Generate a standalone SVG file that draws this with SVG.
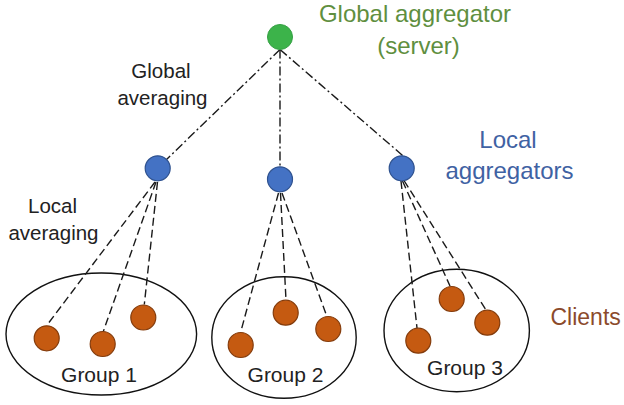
<svg xmlns="http://www.w3.org/2000/svg" width="624" height="405" viewBox="0 0 624 405">
<style>
.bg{fill:#ffffff}
.grp{fill:none;stroke:#111;stroke-width:1.4}
.glob{stroke:#1a1a1a;stroke-width:1.4;stroke-dasharray:9 3 2 3;fill:none}
.loc{stroke:#1a1a1a;stroke-width:1.4;stroke-dasharray:8 4;fill:none}
.gnode{fill:#3cb34a;stroke:#34a043;stroke-width:1}
.lnode{fill:#4472c4;stroke:#2f528f;stroke-width:1.2}
.cnode{fill:#c55a11;stroke:#843c0c;stroke-width:1.2}
text{font-family:"Liberation Sans",Arial,sans-serif}
.lbl{font-size:20.5px;fill:#222;text-anchor:middle}
.glbl{font-size:24px;fill:#5f8f3f;text-anchor:middle}
.blbl{font-size:24px;fill:#3f62a3;text-anchor:middle}
.clbl{font-size:23px;fill:#8b4a2b;text-anchor:start}
.grplbl{font-size:21px;fill:#222;text-anchor:middle}
</style>
<rect class="bg" x="0" y="0" width="624" height="405"/>

<g id="groups">
  <g id="group1"><ellipse class="grp" cx="101.3" cy="334" rx="95.3" ry="61"/><text class="grplbl" x="99" y="381.5">Group 1</text></g>
  <g id="group2"><ellipse class="grp" cx="284" cy="337.5" rx="72.2" ry="60.8"/><text class="grplbl" x="285.5" y="381.5">Group 2</text></g>
  <g id="group3"><ellipse class="grp" cx="456.7" cy="330.5" rx="72.7" ry="61.2"/><text class="grplbl" x="465" y="375">Group 3</text></g>
</g>

<g id="connectors">
  <line class="glob" x1="280" y1="49.5" x2="166.5" y2="159.5"/>
  <line class="glob" x1="280" y1="49.5" x2="280" y2="166.5"/>
  <line class="glob" x1="280" y1="49.5" x2="403" y2="155.8"/>

  <line class="loc" x1="155" y1="182" x2="46.7" y2="325.5"/>
  <line class="loc" x1="156" y1="182" x2="103.3" y2="331.5"/>
  <line class="loc" x1="157.5" y1="182" x2="144.3" y2="304.5"/>

  <line class="loc" x1="278.5" y1="193" x2="240.7" y2="332"/>
  <line class="loc" x1="280.5" y1="193" x2="286" y2="300"/>
  <line class="loc" x1="282" y1="193" x2="326.7" y2="316"/>

  <line class="loc" x1="401" y1="181" x2="417" y2="328"/>
  <line class="loc" x1="402.5" y1="181" x2="450" y2="286"/>
  <line class="loc" x1="404" y1="180.5" x2="486" y2="310"/>
</g>

<g id="global-aggregator">
  <circle class="gnode" cx="280" cy="37" r="12.5"/>
  <text class="glbl" x="415" y="22">Global aggregator</text>
  <text class="glbl" x="418.5" y="54">(server)</text>
</g>

<g id="local-aggregator-1"><circle class="lnode" cx="157.7" cy="168.3" r="12.5"/></g>
<g id="local-aggregator-2"><circle class="lnode" cx="280" cy="179.3" r="12.5"/></g>
<g id="local-aggregator-3"><circle class="lnode" cx="401.7" cy="168.3" r="12.5"/></g>

<g id="local-aggregators-label">
  <text class="blbl" x="508" y="148">Local</text>
  <text class="blbl" x="509.5" y="179">aggregators</text>
</g>

<g id="global-averaging-label">
  <text class="lbl" x="161" y="78">Global</text>
  <text class="lbl" x="162.5" y="105">averaging</text>
</g>

<g id="local-averaging-label">
  <text class="lbl" x="52.5" y="212.5">Local</text>
  <text class="lbl" x="53.5" y="240">averaging</text>
</g>

<g id="client-1a"><circle class="cnode" cx="46.7" cy="338.3" r="12.5"/></g>
<g id="client-1b"><circle class="cnode" cx="102.7" cy="344" r="12.5"/></g>
<g id="client-1c"><circle class="cnode" cx="143.3" cy="317.5" r="12.5"/></g>
<g id="client-2a"><circle class="cnode" cx="240.7" cy="345" r="12.5"/></g>
<g id="client-2b"><circle class="cnode" cx="285.7" cy="312.7" r="12.5"/></g>
<g id="client-2c"><circle class="cnode" cx="328.3" cy="329" r="12.5"/></g>
<g id="client-3a"><circle class="cnode" cx="418.3" cy="340.7" r="12.5"/></g>
<g id="client-3b"><circle class="cnode" cx="451.7" cy="299" r="12.5"/></g>
<g id="client-3c"><circle class="cnode" cx="487.3" cy="322.7" r="12.5"/></g>

<g id="clients-label">
  <text class="clbl" x="550.5" y="324.5">Clients</text>
</g>
</svg>
